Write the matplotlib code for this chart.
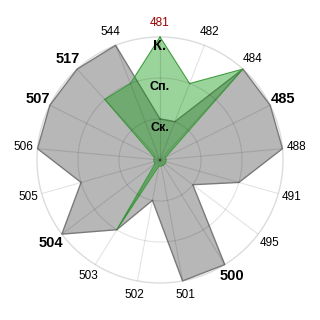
import numpy as np
import matplotlib.pyplot as plt

plt.rcParams['font.family'] = ['Liberation Sans', 'DejaVu Sans']

# categories around the radar, clockwise from top
categories = ['481', '482', '484', '485', '488', '491', '495', '500', '501',
              '502', '503', '504', '505', '506', '507', '517', '544']
bold_labels = ['485', '500', '504', '507', '517']
red_labels = ['481']

# gray series (levels 1..3)
gray_vals = [1, 1, 3, 3, 3, 2, 1, 3, 3, 1, 2, 3, 2, 3, 3, 3, 3]
# green series (0.15 ~ near zero)
green_vals = [3, 2, 3, 0.15, 0.15, 0.15, 0.15, 0.15, 0.15, 0.15, 2, 0.15,
              0.15, 0.15, 0.15, 2, 2]

# ring labels
ring_levels = [1, 2, 3]
ring_labels = ['Ск.', 'Сп.', 'К.']
ring_sizes = [9, 9, 10.5]

n = len(categories)
theta = np.arange(n) * 2 * np.pi / n
t_closed = np.append(theta, theta[0])
gray_closed = np.append(gray_vals, gray_vals[0])
green_closed = np.append(green_vals, green_vals[0])

fig = plt.figure(figsize=(3.2, 3.2), dpi=100)
ax = fig.add_axes([37/320, 37/320, 246/320, 246/320], projection='polar')
ax.set_theta_zero_location('N')
ax.set_theta_direction(-1)
ax.set_ylim(0, 3)
ax.set_xticks([])
ax.set_yticks([])
ax.grid(False)
ax.spines['polar'].set_visible(False)

# outer circle
tt = np.linspace(0, 2 * np.pi, 361)
ax.plot(tt, [3] * len(tt), color='#dcdcdc', lw=1, clip_on=False, zorder=0)

# polygons
ax.fill(t_closed, gray_closed, color='#b7b7b7', lw=0, zorder=1)
ax.plot(t_closed, gray_closed, color='#7a7a7a', lw=1, clip_on=False, zorder=2)
ax.fill(t_closed, green_closed, color='#129a12', alpha=0.42, lw=0, zorder=3)
ax.plot(t_closed, green_closed, color='#3f9f3f', lw=0.8, clip_on=False, zorder=4)

# grid on top, translucent
for r in [1, 2]:
    ax.plot(tt, [r] * len(tt), color=(0, 0, 0, 0.11), lw=0.8, zorder=5)
for th in theta:
    ax.plot([th, th], [0, 3], color=(0, 0, 0, 0.11), lw=0.8, zorder=5)

# category labels
for th, lab in zip(theta, categories):
    if lab in bold_labels:
        ax.text(th, 3.34, lab, ha='center', va='center', fontsize=10.5,
                fontweight='bold', color='black')
    elif lab in red_labels:
        ax.text(th, 3.34, lab, ha='center', va='center', fontsize=8.5,
                color='#990000')
    else:
        ax.text(th, 3.34, lab, ha='center', va='center', fontsize=8.5,
                color='black')

# ring labels
for lev, lab, fs in zip(ring_levels, ring_labels, ring_sizes):
    ax.text(0, lev - 0.22, lab, ha='center', va='center', fontsize=fs,
            fontweight='bold', color='black', zorder=6)

fig.savefig('out.png', dpi=100, facecolor='white')
